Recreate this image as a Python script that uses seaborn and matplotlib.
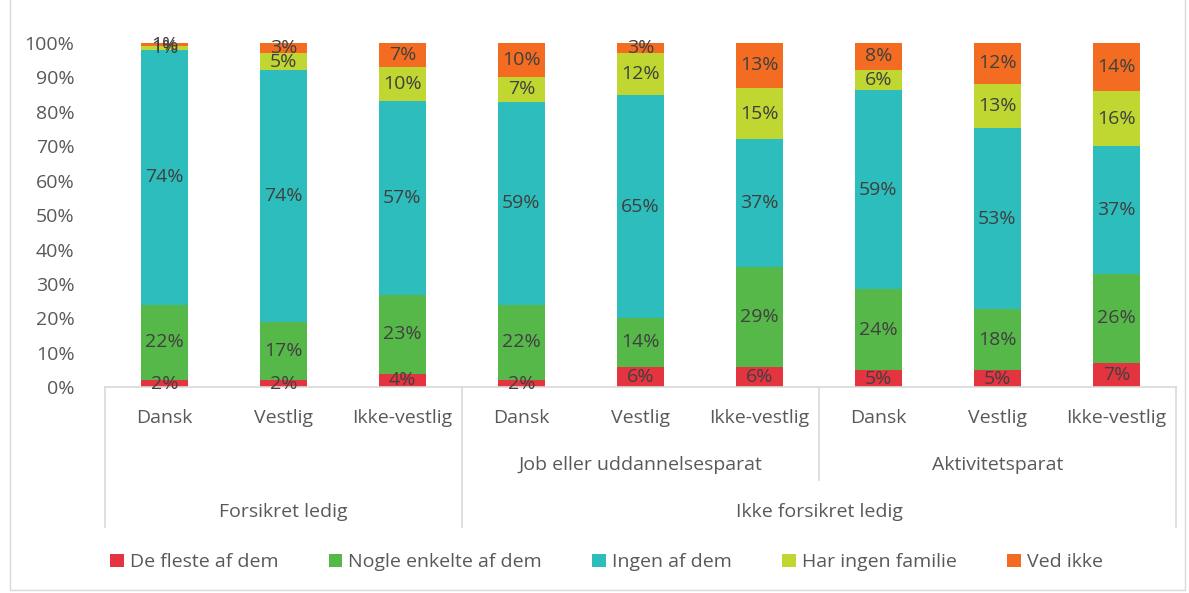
import numpy as np
import pandas as pd
import matplotlib
matplotlib.use('Agg')
import matplotlib.pyplot as plt
import seaborn as sns
from matplotlib.patches import Patch, Rectangle

# Kategorier (tre niveauer)
herkomst = ['Dansk', 'Vestlig', 'Ikke-vestlig'] * 3
gruppe2 = ['', 'Job eller uddannelsesparat', 'Aktivitetsparat']
gruppe1 = ['Forsikret ledig', 'Ikke forsikret ledig']

serier = ['De fleste af dem', 'Nogle enkelte af dem', 'Ingen af dem',
          'Har ingen familie', 'Ved ikke']
farver = ['#E4343F', '#57B84A', '#2CBDBC', '#BFD730', '#F36C21']

de_fleste = [2, 2, 4, 2, 6, 6, 5, 5, 7]
nogle = [22, 17, 23, 22, 14, 29, 24, 18, 26]
ingen = [74, 74, 57, 59, 65, 37, 59, 53, 37]
har_ingen = [1, 5, 10, 7, 12, 15, 6, 13, 16]
ved_ikke = [1, 3, 7, 10, 3, 13, 8, 12, 14]

ids = [f'b{i}' for i in range(len(herkomst))]
df = pd.DataFrame({'id': ids, serier[0]: de_fleste, serier[1]: nogle,
                   serier[2]: ingen, serier[3]: har_ingen, serier[4]: ved_ikke})

# 100% stablet: normaliser hver soejle
vals = df[serier].to_numpy(dtype=float)
andel = vals / vals.sum(axis=1, keepdims=True) * 100
cum = np.cumsum(andel, axis=1)

fonte = ['Open Sans', 'DejaVu Sans']
fs = 14

fig = plt.figure(figsize=(11.89, 5.93), dpi=100)
ax = fig.add_axes([0.0883, 0.347, 0.9007, 0.5805])
plt.rcParams['font.family'] = fonte

# tegn kumulative soejler fra toppen og ned
for k in range(len(serier) - 1, -1, -1):
    sns.barplot(x=ids, y=cum[:, k], color=farver[k], width=0.4,
                saturation=1, ax=ax, order=ids, zorder=2)

tekst_farve = '#404040'
for i in range(len(ids)):
    for k in range(len(serier)):
        midt = cum[i, k] - andel[i, k] / 2
        ax.text(i, midt, f'{int(vals[i, k])}%', ha='center', va='center',
                fontsize=fs, color=tekst_farve, family=fonte, zorder=5)

ax.set_xlim(-0.5, len(ids) - 0.5)
ax.set_ylim(0, 100)
ax.set_yticks(range(0, 101, 10))
ax.set_yticklabels([f'{t}%' for t in range(0, 101, 10)], fontsize=fs,
                   color='#595959', family=fonte)
ax.tick_params(axis='y', length=0, pad=22)
ax.set_xticks([])
ax.set_xlabel('')
ax.set_ylabel('')
for s in ['top', 'right', 'left']:
    ax.spines[s].set_visible(False)
ax.spines['bottom'].set_color('#D9D9D9')
ax.spines['bottom'].set_linewidth(1.2)

trans = ax.get_xaxis_transform()
lc = '#D9D9D9'
txt = dict(ha='center', va='center', fontsize=fs, color='#595959',
           family=fonte, transform=trans)
for i, navn in enumerate(herkomst):
    ax.text(i, -0.09, navn, **txt)
for j, navn in enumerate(gruppe2):
    if navn:
        ax.text(3 * j + 1, -0.227, navn, **txt)
ax.text(1, -0.363, gruppe1[0], **txt)
ax.text(5.5, -0.363, gruppe1[1], **txt)

for xl, bund in [(-0.5, -0.407), (2.5, -0.407), (5.5, -0.27), (8.5, -0.407)]:
    ax.plot([xl, xl], [0, bund], color=lc, lw=1.2, transform=trans, clip_on=False)

handles = [Patch(facecolor=c, edgecolor='none', label=s) for c, s in zip(farver, serier)]
fig.legend(handles=handles, loc='center', bbox_to_anchor=(0.51, 0.052), ncol=5,
           frameon=False, handlelength=0.7, handleheight=0.7, handletextpad=0.3,
           columnspacing=2.6, prop={'family': fonte, 'size': fs},
           labelcolor='#595959')

fig.patches.append(Rectangle((0.008, 0.005), 0.989, 1.2, transform=fig.transFigure,
                             fill=False, edgecolor='#D9D9D9', lw=1))

fig.savefig('out.png', dpi=100)
